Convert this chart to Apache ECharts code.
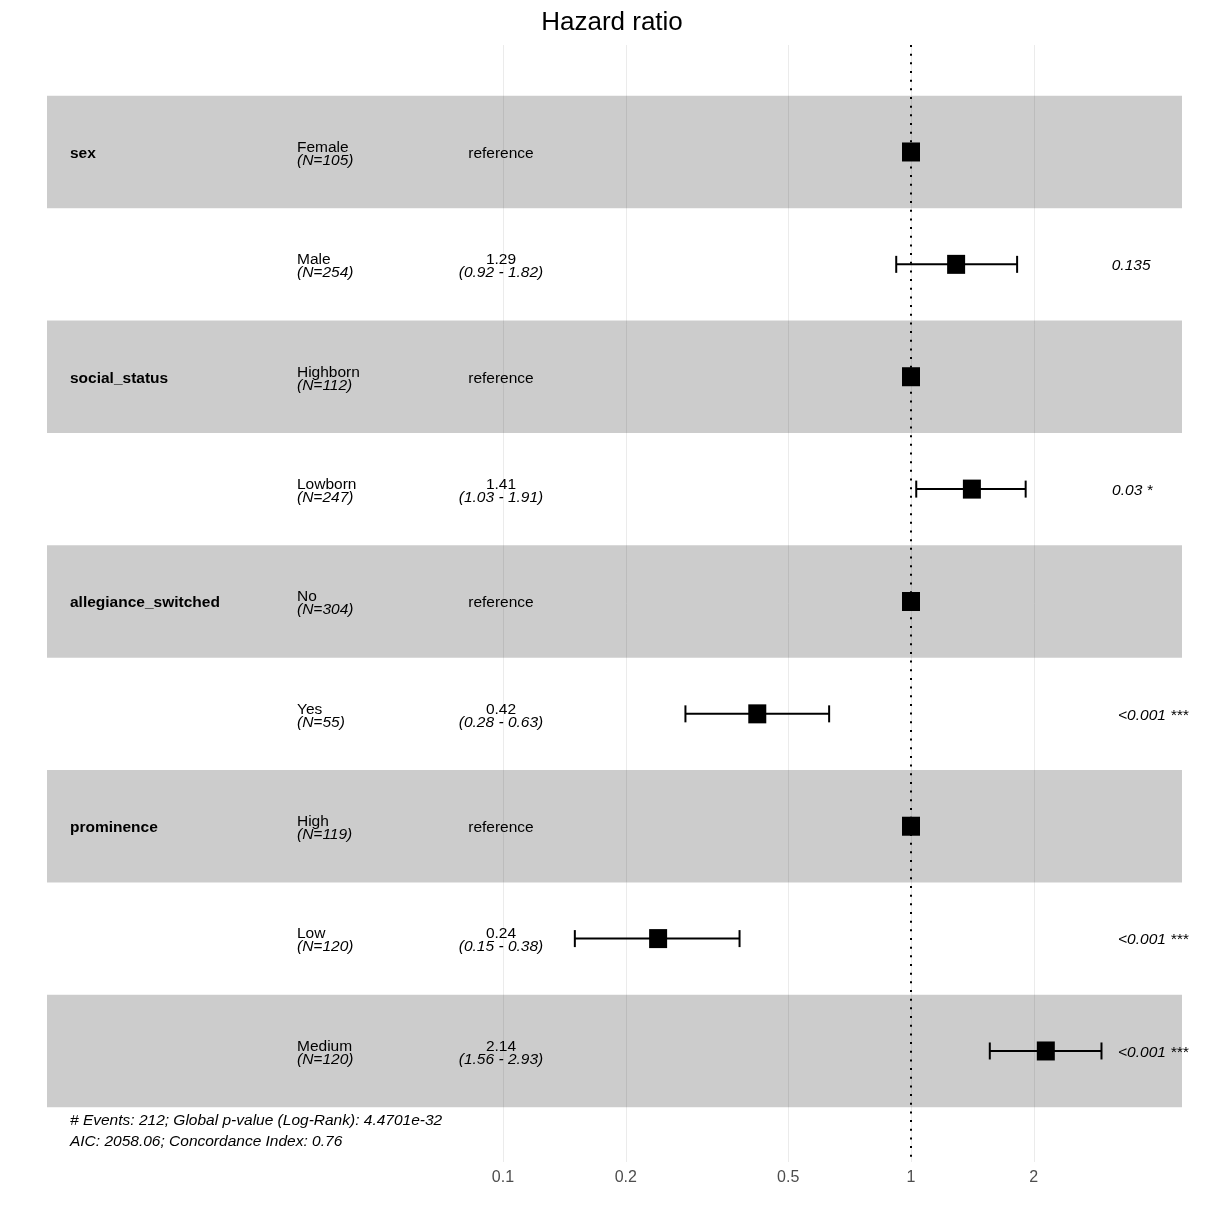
<!DOCTYPE html>
<html><head><meta charset="utf-8">
<script src="https://cdn.jsdelivr.net/npm/echarts@6/dist/echarts.min.js"></script>
<style>html,body{margin:0;padding:0;background:#fff}#c{width:1224px;height:1224px}</style>
</head><body><div id="c"></div>
<script>
// ---- data ----
const variables = ['sex', '', 'social_status', '', 'allegiance_switched', '', 'prominence', '', ''];
const levels = ['Female', 'Male', 'Highborn', 'Lowborn', 'No', 'Yes', 'High', 'Low', 'Medium'];
const counts = [105, 254, 112, 247, 304, 55, 119, 120, 120];
const hr = [1, 1.29, 1, 1.41, 1, 0.42, 1, 0.24, 2.14];
const ciLow = [null, 0.92, null, 1.03, null, 0.28, null, 0.15, 1.56];
const ciHigh = [null, 1.82, null, 1.91, null, 0.63, null, 0.38, 2.93];
const isReference = [true, false, true, false, true, false, true, false, false];
const pLabels = ['', '0.135', '', '0.03 *', '', '<0.001 ***', '', '<0.001 ***', '<0.001 ***'];
const tickValues = [0.1, 0.2, 0.5, 1, 2];
const footnote = ['# Events: 212; Global p-value (Log-Rank): 4.4701e-32', 'AIC: 2058.06; Concordance Index: 0.76'];
const titleText = 'Hazard ratio';

// ---- layout (axis in log10 units) ----
const FONT = '"Liberation Sans", Arial, Helvetica, sans-serif';
const FS = 15.5;
const XMIN = -2.1176, XMAX = 0.6642;
const YMIN = 0.048, YMAX = 9.988;
const COL_VAR = -2.0613, COL_LEVEL = -1.5049, COL_EST = -1.0049, COL_P = 0.4730;
const FOOT_Y = 9.715;
const DY = 1.5;
const fmt = v => v.toFixed(2);

const measureCtx = document.createElement('canvas').getContext('2d');
function textWidth(t, font) { measureCtx.font = font; return measureCtx.measureText(t).width; }

const rows = levels.map((l, i) => i + 1);

const chart = echarts.init(document.getElementById('c'), null, { renderer: 'canvas' });
chart.setOption({
  backgroundColor: '#ffffff',
  animation: false,
  title: {
    text: titleText, left: 'center', top: 5,
    textStyle: { fontFamily: FONT, fontSize: 26, fontWeight: 'normal', color: '#000' }
  },
  grid: { left: 47, right: 42, top: 45, bottom: 62, containLabel: false },
  xAxis: {
    type: 'value', min: XMIN, max: XMAX,
    axisLine: { show: false },
    axisTick: { show: false, customValues: tickValues.map(Math.log10) },
    axisLabel: {
      customValues: tickValues.map(Math.log10),
      formatter: v => {
        const t = tickValues.find(t => Math.abs(Math.log10(t) - v) < 1e-6);
        return t === undefined ? '' : String(t);
      },
      margin: 8, color: '#4d4d4d', fontSize: 16, fontFamily: FONT
    },
    splitLine: { show: true, lineStyle: { color: '#ebebeb', width: 1 } }
  },
  yAxis: { type: 'value', inverse: true, min: YMIN, max: YMAX, show: false },
  series: [
    {
      // alternating row bands
      type: 'custom', silent: true, z: 1,
      data: rows.filter(r => r % 2 === 1).map(r => [r]),
      renderItem: (params, api) => {
        const r = api.value(0);
        const p0 = api.coord([XMIN, r - 0.5]);
        const p1 = api.coord([XMAX, r + 0.5]);
        return { type: 'rect', shape: { x: p0[0], y: p0[1], width: p1[0] - p0[0], height: p1[1] - p0[1] },
                 style: { fill: 'rgba(0,0,0,0.2)' } };
      }
    },
    {
      // reference line at HR = 1
      type: 'line', silent: true, z: 3, symbol: 'none',
      data: [[Math.log10(1), YMIN], [Math.log10(1), YMAX]],
      lineStyle: { color: '#000', width: 2, type: [2, 6.67] }
    },
    {
      // confidence intervals
      type: 'custom', silent: true, z: 4,
      data: rows.filter((r, i) => ciLow[i] !== null).map(r => [r, Math.log10(ciLow[r - 1]), Math.log10(ciHigh[r - 1])]),
      renderItem: (params, api) => {
        const r = api.value(0);
        const a = api.coord([api.value(1), r]);
        const b = api.coord([api.value(2), r]);
        const h = 8.5;
        const st = { stroke: '#000', lineWidth: 2 };
        return { type: 'group', children: [
          { type: 'line', shape: { x1: a[0], y1: a[1], x2: b[0], y2: b[1] }, style: st },
          { type: 'line', shape: { x1: a[0], y1: a[1] - h, x2: a[0], y2: a[1] + h }, style: st },
          { type: 'line', shape: { x1: b[0], y1: b[1] - h, x2: b[0], y2: b[1] + h }, style: st }
        ] };
      }
    },
    {
      // point estimates
      type: 'scatter', silent: true, z: 5, symbol: 'rect', symbolSize: [18, 19],
      itemStyle: { color: '#000', opacity: 1 },
      data: hr.map((v, i) => [Math.log10(v), i + 1])
    },
    {
      // table text
      type: 'custom', silent: true, z: 6,
      data: rows.map(r => [r]),
      renderItem: (params, api) => {
        const r = api.value(0);
        const i = r - 1;
        const y = api.coord([0, r])[1] + DY;
        const xVar = api.coord([COL_VAR, r])[0];
        const xLev = api.coord([COL_LEVEL, r])[0];
        const xEst = api.coord([COL_EST, r])[0];
        const xP = api.coord([COL_P, r])[0];
        const base = { fontFamily: FONT, fontSize: FS, lineHeight: 13, fill: '#000' };
        const children = [];
        if (variables[i]) {
          children.push({ type: 'text', x: xVar, y: y, style: Object.assign({}, base, {
            text: variables[i], fontWeight: 'bold', align: 'left', verticalAlign: 'middle' }) });
        }
        children.push({ type: 'text', x: xLev, y: y + 0.5, style: {
          text: '{a|' + levels[i] + '}\n{b|(N=' + counts[i] + ')}', align: 'left', verticalAlign: 'middle',
          rich: { a: Object.assign({}, base), b: Object.assign({}, base, { fontStyle: 'italic' }) } } });
        if (isReference[i]) {
          children.push({ type: 'text', x: xEst, y: y, style: Object.assign({}, base, {
            text: 'reference', align: 'center', verticalAlign: 'middle' }) });
        } else {
          children.push({ type: 'text', x: xEst, y: y + 0.5, style: {
            text: '{a|' + fmt(hr[i]) + '}\n{b|(' + fmt(ciLow[i]) + ' - ' + fmt(ciHigh[i]) + ')}',
            align: 'center', verticalAlign: 'middle',
            rich: { a: Object.assign({}, base, { align: 'center' }), b: Object.assign({}, base, { fontStyle: 'italic', align: 'center' }) } } });
        }
        if (pLabels[i]) {
          const w = textWidth(pLabels[i], 'italic ' + FS + 'px ' + FONT);
          children.push({ type: 'text', x: xP + 0.2 * w, y: y, style: Object.assign({}, base, {
            text: pLabels[i], fontStyle: 'italic', align: 'left', verticalAlign: 'middle' }) });
        }
        return { type: 'group', children };
      }
    },
    {
      // footnote
      type: 'custom', silent: true, z: 6,
      data: [[COL_VAR, FOOT_Y]],
      renderItem: (params, api) => {
        const p = api.coord([api.value(0), api.value(1)]);
        return { type: 'text', x: p[0], y: p[1], style: {
          text: footnote.join('\n'), fontFamily: FONT, fontSize: FS, fontStyle: 'italic', lineHeight: 21,
          fill: '#000', align: 'left', verticalAlign: 'middle' } };
      }
    }
  ]
});
</script>
</body></html>
